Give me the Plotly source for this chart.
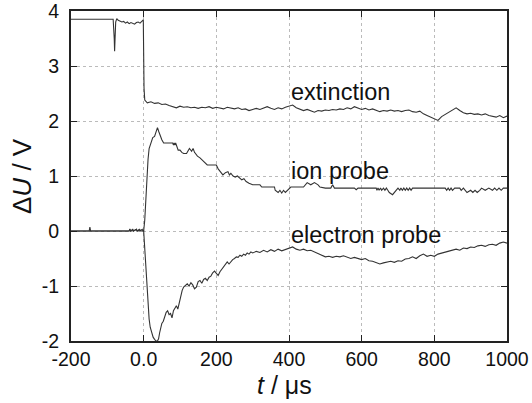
import plotly.graph_objects as go

# ---------------- data ----------------
ext_t = [-200, -190, -180, -170, -160, -150, -140, -130, -120, -110, -100, -90, -84, -81, -80, -79, -77, -74,
         -70, -65, -60, -55, -50, -45, -40, -35, -30, -25, -20, -15, -10, -5, -1, 1, 3,
         10, 20, 30, 40, 50, 60, 70, 80, 90, 100, 110, 120, 130, 140, 150, 160, 170, 180, 190, 200,
         210, 220, 230, 240, 250, 260, 270, 280, 290, 300, 310, 320, 330, 340, 350, 360, 370, 380, 390, 400,
         410, 420, 430, 440, 450, 460, 470, 480, 490, 500, 510, 520, 530, 540, 550, 560, 570, 580, 590, 600,
         610, 620, 630, 640, 650, 660, 670, 680, 690, 700, 710, 720, 730, 740, 750, 760, 770, 780, 790, 800,
         810, 820, 830, 840, 850, 860, 870, 880, 890, 900, 910, 920, 930, 940, 950, 960, 970, 980, 990, 1000]
ext_v = [3.85, 3.85, 3.86, 3.85, 3.85, 3.86, 3.85, 3.85, 3.86, 3.85, 3.85, 3.85, 3.85, 3.5, 3.27, 3.45, 3.8, 3.86,
         3.83, 3.82, 3.80, 3.81, 3.78, 3.80, 3.77, 3.79, 3.78, 3.76, 3.79, 3.80, 3.78, 3.82, 3.84, 2.6, 2.38,
         2.33, 2.35, 2.32, 2.33, 2.30, 2.31, 2.28, 2.26, 2.24, 2.27, 2.25, 2.26, 2.24, 2.25, 2.23, 2.25, 2.24, 2.26, 2.23, 2.25,
         2.24, 2.22, 2.25, 2.23, 2.22, 2.24, 2.21, 2.22, 2.19, 2.21, 2.23, 2.21, 2.24, 2.26, 2.23, 2.21, 2.24, 2.22, 2.25, 2.27,
         2.29, 2.24, 2.22, 2.19, 2.21, 2.18, 2.16, 2.19, 2.18, 2.20, 2.19, 2.21, 2.20, 2.22, 2.21, 2.24, 2.22, 2.26, 2.23, 2.21,
         2.23, 2.20, 2.22, 2.19, 2.17, 2.19, 2.18, 2.20, 2.18, 2.19, 2.17, 2.19, 2.20, 2.17, 2.16, 2.18, 2.13, 2.10, 2.07, 2.04,
         2.01, 2.08, 2.12, 2.17, 2.20, 2.24, 2.19, 2.15, 2.13, 2.14, 2.12, 2.13, 2.11, 2.13, 2.10, 2.08, 2.07, 2.10, 2.06, 2.09]

ion_t = [-200, -150, -148, -146, -40, -38, -36, -30, -28, -20, -18, -12, -10, -4, -2, 0,
         3, 6, 9, 12, 15, 20, 25, 30, 34, 38, 42, 46, 50, 55, 80, 82, 84, 86, 88, 95, 100, 105, 110,
         118, 122, 126, 132, 136, 140, 148, 155, 162, 168, 175, 200, 205, 212, 218, 225, 232, 236, 240,
         246, 252, 258, 264, 270, 276, 282, 290, 300, 320, 325, 360, 362, 370, 375, 380, 385, 390, 395,
         400, 405, 440, 445, 450, 460, 470, 480, 485, 500, 515, 520, 525, 580, 585, 590, 640, 642, 645,
         648, 652, 655, 660, 664, 668, 672, 676, 685, 690, 695, 700, 705, 708, 712, 716, 720, 724, 728,
         732, 736, 740, 790, 830, 834, 838, 842, 846, 850, 856, 870, 874, 880, 884, 890, 900, 906, 912,
         918, 925, 930, 940, 950, 960, 966, 972, 978, 984, 990, 1000]
ion_v = [0, 0, 0.07, 0, 0, 0.04, 0, 0.03, 0, 0.03, 0, 0.03, 0, 0.03, 0, 0,
         0.2, 0.6, 1.0, 1.3, 1.5, 1.62, 1.7, 1.72, 1.82, 1.88, 1.8, 1.72, 1.66, 1.6, 1.6, 1.56, 1.6, 1.56, 1.6, 1.47, 1.47, 1.43, 1.41,
         1.41, 1.45, 1.5, 1.45, 1.5, 1.43, 1.36, 1.33, 1.28, 1.23, 1.2, 1.2, 1.13, 1.07, 1.02, 1.06, 1.08, 1.02, 1.05,
         1.0, 0.98, 1.0, 0.96, 0.93, 0.95, 0.9, 0.87, 0.84, 0.84, 0.8, 0.8, 0.74, 0.7, 0.74, 0.69, 0.74, 0.7, 0.74,
         0.78, 0.8, 0.8, 0.84, 0.88, 0.84, 0.88, 0.84, 0.8, 0.78, 0.78, 0.84, 0.78, 0.78, 0.75, 0.78, 0.78, 0.74, 0.78,
         0.74, 0.78, 0.74, 0.78, 0.74, 0.78, 0.74, 0.7, 0.66, 0.7, 0.74, 0.78, 0.74, 0.78, 0.74, 0.78, 0.74, 0.78, 0.74,
         0.78, 0.74, 0.78, 0.78, 0.78, 0.74, 0.78, 0.74, 0.78, 0.74, 0.78, 0.78, 0.74, 0.78, 0.74, 0.7, 0.74, 0.7, 0.74,
         0.7, 0.74, 0.78, 0.74, 0.78, 0.74, 0.78, 0.74, 0.78, 0.74, 0.78, 0.78]

ele_t = [-200, -100, -40, -38, -36, -30, -28, -20, -18, -10, -8, 0,
         3, 6, 9, 12, 15, 18, 22, 26, 30, 34, 38, 41, 44, 47, 50, 54, 58, 62, 66, 70, 74, 78, 82, 86, 90, 94, 98,
         102, 106, 110, 115, 120, 125, 130, 135, 140, 145, 150, 155, 160, 165, 170, 175, 180, 185, 190, 195, 200,
         205, 210, 215, 220, 225, 230, 235, 240, 245, 250, 255, 260, 265, 270, 275, 280, 285, 290, 295, 300,
         310, 320, 330, 340, 350, 360, 370, 380, 390, 400, 410, 420, 430, 440, 450, 460, 470, 480, 490, 500,
         510, 520, 530, 540, 550, 560, 570, 580, 590, 600, 610, 620, 630, 640, 650, 660, 670, 680, 690, 700,
         710, 720, 730, 740, 750, 760, 770, 780, 790, 800, 810, 820, 830, 840, 850, 860, 870, 880, 890, 900,
         910, 920, 930, 940, 950, 960, 970, 980, 990, 1000]
ele_v = [0, 0, 0, 0.03, 0, 0.02, 0, 0.03, 0, 0.02, 0, 0,
         -0.3, -0.7, -1.1, -1.4, -1.6, -1.75, -1.85, -1.93, -1.97, -2.0, -2.0, -1.96, -1.85, -1.72, -1.68, -1.64, -1.57, -1.48, -1.45, -1.52, -1.5, -1.58, -1.45, -1.4, -1.36, -1.42, -1.3,
         -1.2, -1.08, -1.02, -0.98, -0.96, -1.0, -0.94, -0.98, -1.05, -1.02, -0.92, -0.9, -0.95, -0.88, -0.86, -0.9, -0.84, -0.82, -0.76, -0.73, -0.78,
         -0.81, -0.74, -0.7, -0.64, -0.6, -0.56, -0.6, -0.55, -0.52, -0.5, -0.47, -0.48, -0.44, -0.46, -0.42, -0.44, -0.4, -0.42, -0.38, -0.4,
         -0.37, -0.39, -0.35, -0.38, -0.34, -0.37, -0.33, -0.36, -0.34, -0.31, -0.29, -0.33, -0.35, -0.33, -0.36, -0.35, -0.38, -0.4, -0.44, -0.47,
         -0.46, -0.48, -0.46, -0.47, -0.45, -0.47, -0.5, -0.48, -0.5, -0.52, -0.5, -0.54, -0.55, -0.57, -0.6, -0.58, -0.56, -0.55, -0.57, -0.54,
         -0.55, -0.51, -0.5, -0.47, -0.5, -0.45, -0.42, -0.46, -0.44, -0.46, -0.42, -0.4, -0.38, -0.37, -0.35, -0.33, -0.35, -0.31, -0.32, -0.29,
         -0.3, -0.27, -0.26, -0.28, -0.25, -0.24, -0.26, -0.22, -0.2, -0.22]

x_ticks = [-200, 0, 200, 400, 600, 800, 1000]
x_tick_labels = ["-200", "0.0", "200", "400", "600", "800", "1000"]
y_ticks = [-2, -1, 0, 1, 2, 3, 4]
y_tick_labels = ["-2", "-1", "0", "1", "2", "3", "4"]

labels = ["extinction", "ion probe", "electron probe"]
label_x = [400, 400, 400]
label_y = [2.52, 1.1, -0.08]

x_title = "<i>t</i> / μs"
y_title = "Δ<i>U</i> / V"

# ---------------- figure ----------------
FONT = "Liberation Sans, Arial, Helvetica, sans-serif"
INK = "#111111"
LINE = dict(color="#333333", width=1.1)

fig = go.Figure()
for t, v in [(ext_t, ext_v), (ion_t, ion_v), (ele_t, ele_v)]:
    fig.add_trace(go.Scatter(x=t, y=v, mode="lines", line=LINE, showlegend=False, hoverinfo="skip"))

for txt, lx, ly in zip(labels, label_x, label_y):
    fig.add_annotation(x=lx, y=ly, text=txt, showarrow=False, xanchor="left", yanchor="middle",
                       font=dict(family=FONT, size=23.5, color=INK))

# axis titles
fig.add_annotation(xref="paper", yref="paper", x=0.49, y=0, yshift=-44, text=x_title, showarrow=False,
                   xanchor="center", yanchor="middle", font=dict(family=FONT, size=25, color=INK))
fig.add_annotation(xref="paper", yref="paper", x=0, xshift=-49, y=0.5, text=y_title, showarrow=False,
                   textangle=-90, xanchor="center", yanchor="middle", font=dict(family=FONT, size=26, color=INK))

axis_common = dict(
    showline=True, linecolor="#222222", linewidth=2, mirror="ticks",
    ticks="inside", ticklen=6, tickwidth=1, tickcolor="#222222",
    showgrid=True, gridcolor="#bbbbbb", gridwidth=1, griddash="dot",
    zeroline=False, automargin=False, ticklabeloverflow="allow",
    tickfont=dict(family=FONT, size=19.5, color=INK),
)

fig.update_xaxes(range=[-200, 1000], tickvals=x_ticks, ticktext=x_tick_labels, **axis_common)
fig.update_yaxes(range=[-2, 4], tickvals=y_ticks, ticktext=y_tick_labels, ticklabelstandoff=6, **axis_common)

fig.update_layout(
    width=532, height=403,
    margin=dict(l=71, r=25, t=11, b=62),
    paper_bgcolor="white", plot_bgcolor="white",
)

fig.write_html("out.html", config={"displayModeBar": False},
               post_script="document.body.style.margin='0';document.body.style.overflow='hidden';")
